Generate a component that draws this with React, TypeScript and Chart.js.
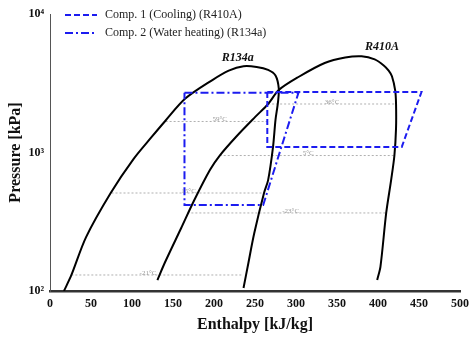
import React, { useEffect, useRef } from "react";
import { Chart, registerables } from "chart.js";

Chart.register(...registerables);

// ---- Data ----
const xTickValues = [0, 50, 100, 150, 200, 250, 300, 350, 400, 450, 500];
const yTickValues = [100, 1000, 10000];
const yTickLabels = ["10²", "10³", "10⁴"];

// R134a saturation dome (enthalpy kJ/kg, pressure kPa)
const r134aH = [17, 26, 44, 74, 102, 124, 140, 165, 198, 218, 236, 252, 266, 275, 279, 278, 275, 272, 266, 261, 249, 242, 236];
const r134aP = [100, 130, 245, 510, 900, 1295, 1675, 2450, 3335, 3900, 4200, 4150, 3950, 3600, 2900, 2300, 1720, 1100, 632, 510, 260, 160, 105];

// R410A saturation dome
const r410aH = [131, 140, 160, 176, 195, 207, 227, 250, 266, 279, 303, 335, 360, 380, 396, 407, 413, 417, 421, 422, 422, 420, 416, 410, 403, 399];
const r410aP = [120, 160, 285, 454, 748, 951, 1300, 1800, 2240, 2825, 3508, 4425, 4850, 4950, 4700, 4250, 3900, 3550, 2800, 2240, 1500, 951, 632, 366, 150, 120];

// Comp. 1 (Cooling) (R410A) cycle
const comp1H = [265, 453, 429, 265, 265];
const comp1P = [2735, 2735, 1097, 1097, 2735];

// Comp. 2 (Water heating) (R134a) cycle
const comp2H = [164, 303, 260, 164, 164];
const comp2P = [2700, 2700, 418, 418, 2700];

// Isotherms
const isoLabels = ["59°C", "36°C", "5°C", "15°C", "-23°C", "-21°C"];
const isoP = [1675, 2240, 951, 510, 366, 130.5];
const isoStartH = [141, 266, 207, 75, 167.5, 26];
const isoEndH = [268, 422, 419.5, 260, 410, 235];
const isoLabelH = [207, 344, 315, 169, 293.5, 119.5];

// Refrigerant labels
const refLabels = ["R134a", "R410A"];
const refLabelH = [229, 405];
const refLabelP = [4810, 5780];

const legendLabels = ["Comp. 1 (Cooling) (R410A)", "Comp. 2 (Water heating) (R134a)"];

const BLUE = "#1c1cf0";
const SERIF = "'Liberation Serif', 'Times New Roman', serif";
const DASH1 = [6, 3];
const DASH2 = [8, 3, 2, 3];

const pts = (hs: number[], ps: number[]) => hs.map((h, i) => ({ x: h, y: ps[i] }));

export default function App() {
  const ref = useRef<HTMLCanvasElement>(null);

  useEffect(() => {
    if (!ref.current) return;

    const overlay = {
      id: "overlay",
      afterDatasetsDraw(chart: any) {
        const c = chart.ctx;
        const xs = chart.scales.x;
        const ys = chart.scales.y;
        c.save();
        // isotherm labels
        c.font = `7px ${SERIF}`;
        c.fillStyle = "#9a9a9a";
        c.textAlign = "center";
        c.textBaseline = "middle";
        isoLabels.forEach((t, i) => {
          c.fillText(t, xs.getPixelForValue(isoLabelH[i]), ys.getPixelForValue(isoP[i]) - 2);
        });
        // refrigerant labels
        c.font = `italic bold 12px ${SERIF}`;
        c.fillStyle = "#111";
        refLabels.forEach((t, i) => {
          c.fillText(t, xs.getPixelForValue(refLabelH[i]), ys.getPixelForValue(refLabelP[i]));
        });
        // legend
        const area = chart.chartArea;
        const lx = area.left + 15;
        const dashes = [DASH1, DASH2];
        legendLabels.forEach((t, i) => {
          const y = area.top + 1 + i * 18;
          c.strokeStyle = BLUE;
          c.lineWidth = 2;
          c.setLineDash(dashes[i]);
          c.beginPath();
          c.moveTo(lx, y);
          c.lineTo(lx + 32, y);
          c.stroke();
          c.setLineDash([]);
          c.font = `12px ${SERIF}`;
          c.fillStyle = "#222";
          c.textAlign = "left";
          c.textBaseline = "middle";
          c.fillText(t, lx + 40, y);
        });
        c.restore();
      },
    };

    const isoSets = isoLabels.map((_, i) => ({
      label: isoLabels[i],
      data: [
        { x: isoStartH[i], y: isoP[i] },
        { x: isoEndH[i], y: isoP[i] },
      ],
      showLine: true,
      borderColor: "#b0b0b0",
      borderWidth: 1,
      borderDash: [2, 2],
      pointRadius: 0,
    }));

    const chart = new Chart(ref.current, {
      type: "scatter",
      data: {
        datasets: [
          {
            label: legendLabels[0],
            data: pts(comp1H, comp1P),
            showLine: true,
            borderColor: BLUE,
            borderWidth: 2,
            borderDash: DASH1,
            pointRadius: 0,
            tension: 0,
          },
          {
            label: legendLabels[1],
            data: pts(comp2H, comp2P),
            showLine: true,
            borderColor: BLUE,
            borderWidth: 2,
            borderDash: DASH2,
            pointRadius: 0,
            tension: 0,
          },
          {
            label: "R134a",
            data: pts(r134aH, r134aP),
            showLine: true,
            borderColor: "#000",
            borderWidth: 2,
            pointRadius: 0,
            tension: 0.3,
          },
          {
            label: "R410A",
            data: pts(r410aH, r410aP),
            showLine: true,
            borderColor: "#000",
            borderWidth: 2,
            pointRadius: 0,
            tension: 0.3,
          },
          ...isoSets,
        ] as any,
      },
      options: {
        responsive: false,
        animation: false,
        layout: { padding: { top: 14, right: 9, left: 0, bottom: 0 } },
        plugins: {
          legend: { display: false },
          tooltip: { enabled: false },
        },
        scales: {
          x: {
            type: "linear",
            min: 0,
            max: 500,
            afterFit: (s: any) => {
              s.height = 49;
            },
            afterBuildTicks: (s: any) => {
              s.ticks = xTickValues.map((v) => ({ value: v }));
            },
            grid: { display: false, drawTicks: false },
            border: { display: true, color: "#333", width: 2.5 },
            ticks: {
              padding: 6,
              color: "#111",
              font: { family: SERIF, size: 12, weight: "bold" },
              maxRotation: 0,
              autoSkip: false,
            },
            title: {
              display: true,
              text: "Enthalpy [kJ/kg]",
              color: "#111",
              font: { family: SERIF, size: 16, weight: "bold" },
              padding: { top: 0, bottom: 6 },
            },
          },
          y: {
            type: "logarithmic",
            min: 100,
            max: 10000,
            afterFit: (s: any) => {
              s.width = 50;
            },
            afterBuildTicks: (s: any) => {
              s.ticks = yTickValues.map((v) => ({ value: v }));
            },
            grid: { display: false, drawTicks: false },
            border: { display: true, color: "#555", width: 1 },
            ticks: {
              padding: 6,
              color: "#111",
              font: { family: SERIF, size: 12, weight: "bold" },
              autoSkip: false,
              callback: (v: any) => {
                const idx = yTickValues.indexOf(Number(v));
                return idx >= 0 ? yTickLabels[idx] : "";
              },
            },
            title: {
              display: true,
              text: "Pressure [kPa]",
              color: "#111",
              font: { family: SERIF, size: 16, weight: "bold" },
              padding: { top: 6, bottom: 0 },
            },
          },
        },
      } as any,
      plugins: [overlay],
    });

    return () => chart.destroy();
  }, []);

  return (
    <div style={{ position: "fixed", left: 0, top: 0, width: 475, height: 340, background: "#fff" }}>
      <canvas ref={ref} width={475} height={340} style={{ display: "block" }} />
    </div>
  );
}
